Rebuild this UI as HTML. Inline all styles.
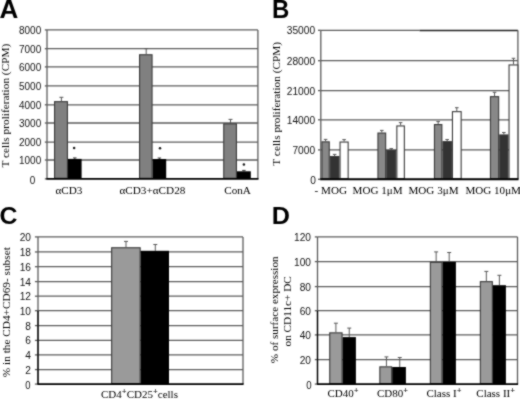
<!DOCTYPE html>
<html><head><meta charset="utf-8"><style>
html,body{margin:0;padding:0;background:#fff;}
svg{display:block;filter:grayscale(100%);}
</style></head><body>
<svg width="520" height="399" viewBox="0 0 520 399">
<defs><filter id="soft" x="0" y="0" width="520" height="399" filterUnits="userSpaceOnUse" color-interpolation-filters="sRGB"><feConvolveMatrix order="3" kernelMatrix="1 2 1 2 12 2 1 2 1" divisor="24" edgeMode="duplicate"/></filter></defs>
<g filter="url(#soft)">
<rect width="520" height="399" fill="#fff"/>
<text x="-0.6" y="17.6" font-family='"Liberation Sans", sans-serif' font-size="26" text-anchor="start" font-weight="bold" fill="#000" transform="translate(0,0)">A</text>
<line x1="47.00" y1="160.00" x2="257.90" y2="160.00" stroke="#5c5c5c" stroke-width="1.3"/>
<line x1="44.80" y1="160.00" x2="47.00" y2="160.00" stroke="#5c5c5c" stroke-width="1.3"/>
<line x1="47.00" y1="142.10" x2="257.90" y2="142.10" stroke="#5c5c5c" stroke-width="1.3"/>
<line x1="44.80" y1="142.10" x2="47.00" y2="142.10" stroke="#5c5c5c" stroke-width="1.3"/>
<line x1="47.00" y1="123.00" x2="257.90" y2="123.00" stroke="#5c5c5c" stroke-width="1.3"/>
<line x1="44.80" y1="123.00" x2="47.00" y2="123.00" stroke="#5c5c5c" stroke-width="1.3"/>
<line x1="47.00" y1="104.80" x2="257.90" y2="104.80" stroke="#5c5c5c" stroke-width="1.3"/>
<line x1="44.80" y1="104.80" x2="47.00" y2="104.80" stroke="#5c5c5c" stroke-width="1.3"/>
<line x1="47.00" y1="85.90" x2="257.90" y2="85.90" stroke="#5c5c5c" stroke-width="1.3"/>
<line x1="44.80" y1="85.90" x2="47.00" y2="85.90" stroke="#5c5c5c" stroke-width="1.3"/>
<line x1="47.00" y1="66.90" x2="257.90" y2="66.90" stroke="#5c5c5c" stroke-width="1.3"/>
<line x1="44.80" y1="66.90" x2="47.00" y2="66.90" stroke="#5c5c5c" stroke-width="1.3"/>
<line x1="47.00" y1="48.70" x2="257.90" y2="48.70" stroke="#5c5c5c" stroke-width="1.3"/>
<line x1="44.80" y1="48.70" x2="47.00" y2="48.70" stroke="#5c5c5c" stroke-width="1.3"/>
<line x1="47.00" y1="29.90" x2="257.90" y2="29.90" stroke="#5c5c5c" stroke-width="1.3"/>
<line x1="44.80" y1="29.90" x2="47.00" y2="29.90" stroke="#5c5c5c" stroke-width="1.3"/>
<text x="0" y="0" font-family='"Liberation Sans", sans-serif' font-size="10.5" text-anchor="end" fill="#111" transform="translate(41.2,164.0) scale(0.95,1)">1000</text>
<text x="0" y="0" font-family='"Liberation Sans", sans-serif' font-size="10.5" text-anchor="end" fill="#111" transform="translate(41.2,146.1) scale(0.95,1)">2000</text>
<text x="0" y="0" font-family='"Liberation Sans", sans-serif' font-size="10.5" text-anchor="end" fill="#111" transform="translate(41.2,127.0) scale(0.95,1)">3000</text>
<text x="0" y="0" font-family='"Liberation Sans", sans-serif' font-size="10.5" text-anchor="end" fill="#111" transform="translate(41.2,108.8) scale(0.95,1)">4000</text>
<text x="0" y="0" font-family='"Liberation Sans", sans-serif' font-size="10.5" text-anchor="end" fill="#111" transform="translate(41.2,89.9) scale(0.95,1)">5000</text>
<text x="0" y="0" font-family='"Liberation Sans", sans-serif' font-size="10.5" text-anchor="end" fill="#111" transform="translate(41.2,70.9) scale(0.95,1)">6000</text>
<text x="0" y="0" font-family='"Liberation Sans", sans-serif' font-size="10.5" text-anchor="end" fill="#111" transform="translate(41.2,52.7) scale(0.95,1)">7000</text>
<text x="0" y="0" font-family='"Liberation Sans", sans-serif' font-size="10.5" text-anchor="end" fill="#111" transform="translate(41.2,33.9) scale(0.95,1)">8000</text>
<text x="0" y="0" font-family='"Liberation Sans", sans-serif' font-size="10.5" text-anchor="middle" fill="#111" transform="translate(32.5,183.5) scale(0.95,1)">0</text>
<line x1="44.80" y1="178.85" x2="47.00" y2="178.85" stroke="#5c5c5c" stroke-width="1.3"/>
<line x1="257.90" y1="29.90" x2="257.90" y2="178.85" stroke="#5c5c5c" stroke-width="1.3"/>
<line x1="47.00" y1="29.90" x2="47.00" y2="178.85" stroke="#5c5c5c" stroke-width="1.3"/>
<line x1="61.40" y1="101.10" x2="61.40" y2="97.30" stroke="#505050" stroke-width="0.95"/>
<line x1="59.40" y1="97.30" x2="63.40" y2="97.30" stroke="#505050" stroke-width="0.95"/>
<line x1="74.80" y1="158.90" x2="74.80" y2="157.90" stroke="#333" stroke-width="0.95"/>
<line x1="73.05" y1="157.90" x2="76.55" y2="157.90" stroke="#333" stroke-width="0.95"/>
<rect x="54.55" y="101.65" width="12.90" height="76.65" fill="#808080" stroke="#3a3a3a" stroke-width="1.1"/>
<rect x="68.00" y="158.90" width="13.60" height="19.95" fill="#000"/>
<circle cx="74.1" cy="148.1" r="1.25" fill="#1a1a1a"/>
<line x1="146.20" y1="54.20" x2="146.20" y2="48.60" stroke="#505050" stroke-width="0.95"/>
<line x1="144.20" y1="48.60" x2="148.20" y2="48.60" stroke="#505050" stroke-width="0.95"/>
<line x1="159.40" y1="159.00" x2="159.40" y2="158.00" stroke="#333" stroke-width="0.95"/>
<line x1="157.65" y1="158.00" x2="161.15" y2="158.00" stroke="#333" stroke-width="0.95"/>
<rect x="139.55" y="54.75" width="12.50" height="123.55" fill="#808080" stroke="#3a3a3a" stroke-width="1.1"/>
<rect x="152.60" y="159.00" width="13.60" height="19.85" fill="#000"/>
<circle cx="160.0" cy="148.2" r="1.25" fill="#1a1a1a"/>
<line x1="230.50" y1="123.30" x2="230.50" y2="119.40" stroke="#505050" stroke-width="0.95"/>
<line x1="228.50" y1="119.40" x2="232.50" y2="119.40" stroke="#505050" stroke-width="0.95"/>
<line x1="243.90" y1="171.30" x2="243.90" y2="170.40" stroke="#333" stroke-width="0.95"/>
<line x1="242.15" y1="170.40" x2="245.65" y2="170.40" stroke="#333" stroke-width="0.95"/>
<rect x="223.75" y="123.85" width="12.70" height="54.45" fill="#808080" stroke="#3a3a3a" stroke-width="1.1"/>
<rect x="237.00" y="171.30" width="13.80" height="7.55" fill="#000"/>
<circle cx="243.9" cy="164.4" r="1.25" fill="#1a1a1a"/>
<line x1="46.40" y1="178.85" x2="258.50" y2="178.85" stroke="#000" stroke-width="1.9"/>
<text x="68.9" y="193.5" font-family='"Liberation Serif", serif' font-size="11.2" text-anchor="middle" font-weight="normal" fill="#000" >&#945;CD3</text>
<text x="152.4" y="193.5" font-family='"Liberation Serif", serif' font-size="11.2" text-anchor="middle" font-weight="normal" fill="#000" >&#945;CD3+&#945;CD28</text>
<text x="237.6" y="193.5" font-family='"Liberation Serif", serif' font-size="11.2" text-anchor="middle" font-weight="normal" fill="#000" >ConA</text>
<text x="0" y="0" font-family='"Liberation Serif", serif' font-size="11.3" text-anchor="middle" fill="#000" transform="translate(9.0,105.6) rotate(-90)" >T cells proliferation (CPM)</text>
<text x="0" y="0" font-family='"Liberation Sans", sans-serif' font-size="25" text-anchor="start" font-weight="bold" fill="#000" transform="translate(271.9,17.6) scale(0.96,1)">B</text>
<line x1="320.80" y1="149.90" x2="517.90" y2="149.90" stroke="#5c5c5c" stroke-width="1.3"/>
<line x1="318.00" y1="149.90" x2="320.80" y2="149.90" stroke="#5c5c5c" stroke-width="1.3"/>
<line x1="320.80" y1="119.80" x2="517.90" y2="119.80" stroke="#5c5c5c" stroke-width="1.3"/>
<line x1="318.00" y1="119.80" x2="320.80" y2="119.80" stroke="#5c5c5c" stroke-width="1.3"/>
<line x1="320.80" y1="90.60" x2="517.90" y2="90.60" stroke="#5c5c5c" stroke-width="1.3"/>
<line x1="318.00" y1="90.60" x2="320.80" y2="90.60" stroke="#5c5c5c" stroke-width="1.3"/>
<line x1="320.80" y1="60.70" x2="517.90" y2="60.70" stroke="#5c5c5c" stroke-width="1.3"/>
<line x1="318.00" y1="60.70" x2="320.80" y2="60.70" stroke="#5c5c5c" stroke-width="1.3"/>
<line x1="320.80" y1="30.30" x2="419.50" y2="30.30" stroke="#5c5c5c" stroke-width="1.3"/>
<line x1="419.50" y1="30.50" x2="517.90" y2="30.50" stroke="#222" stroke-width="1.6"/>
<line x1="318.00" y1="30.30" x2="320.80" y2="30.30" stroke="#5c5c5c" stroke-width="1.3"/>
<line x1="318.00" y1="179.30" x2="320.80" y2="179.30" stroke="#5c5c5c" stroke-width="1.3"/>
<text x="0" y="0" font-family='"Liberation Sans", sans-serif' font-size="10.5" text-anchor="end" fill="#111" transform="translate(315.8,184.20000000000002) scale(0.97,1)">0</text>
<text x="0" y="0" font-family='"Liberation Sans", sans-serif' font-size="10.5" text-anchor="end" fill="#111" transform="translate(315.1,153.9) scale(0.97,1)">7000</text>
<text x="0" y="0" font-family='"Liberation Sans", sans-serif' font-size="10.5" text-anchor="end" fill="#111" transform="translate(315.1,123.8) scale(0.97,1)">14000</text>
<text x="0" y="0" font-family='"Liberation Sans", sans-serif' font-size="10.5" text-anchor="end" fill="#111" transform="translate(315.1,94.6) scale(0.97,1)">21000</text>
<text x="0" y="0" font-family='"Liberation Sans", sans-serif' font-size="10.5" text-anchor="end" fill="#111" transform="translate(315.1,64.7) scale(0.97,1)">28000</text>
<text x="0" y="0" font-family='"Liberation Sans", sans-serif' font-size="10.5" text-anchor="end" fill="#111" transform="translate(315.1,34.3) scale(0.97,1)">35000</text>
<line x1="517.90" y1="30.30" x2="517.90" y2="179.30" stroke="#5c5c5c" stroke-width="1.3"/>
<line x1="320.80" y1="30.30" x2="320.80" y2="179.30" stroke="#5c5c5c" stroke-width="1.3"/>
<line x1="325.60" y1="141.30" x2="325.60" y2="139.40" stroke="#505050" stroke-width="0.95"/>
<line x1="323.80" y1="139.40" x2="327.40" y2="139.40" stroke="#505050" stroke-width="0.95"/>
<rect x="321.95" y="141.85" width="7.30" height="36.90" fill="#888888" stroke="#3a3a3a" stroke-width="1.1"/>
<line x1="334.65" y1="156.00" x2="334.65" y2="154.40" stroke="#505050" stroke-width="0.95"/>
<line x1="332.85" y1="154.40" x2="336.45" y2="154.40" stroke="#505050" stroke-width="0.95"/>
<rect x="330.35" y="156.55" width="8.60" height="22.20" fill="#333333" stroke="#3a3a3a" stroke-width="1.1"/>
<line x1="344.10" y1="141.50" x2="344.10" y2="139.60" stroke="#505050" stroke-width="0.95"/>
<line x1="342.30" y1="139.60" x2="345.90" y2="139.60" stroke="#505050" stroke-width="0.95"/>
<rect x="340.05" y="142.05" width="8.10" height="36.70" fill="#ffffff" stroke="#3a3a3a" stroke-width="1.1"/>
<line x1="381.80" y1="132.50" x2="381.80" y2="130.40" stroke="#505050" stroke-width="0.95"/>
<line x1="380.00" y1="130.40" x2="383.60" y2="130.40" stroke="#505050" stroke-width="0.95"/>
<rect x="377.95" y="133.05" width="7.70" height="45.70" fill="#888888" stroke="#3a3a3a" stroke-width="1.1"/>
<line x1="391.25" y1="149.90" x2="391.25" y2="148.60" stroke="#505050" stroke-width="0.95"/>
<line x1="389.45" y1="148.60" x2="393.05" y2="148.60" stroke="#505050" stroke-width="0.95"/>
<rect x="386.75" y="150.45" width="9.00" height="28.30" fill="#333333" stroke="#3a3a3a" stroke-width="1.1"/>
<line x1="400.60" y1="125.40" x2="400.60" y2="122.60" stroke="#505050" stroke-width="0.95"/>
<line x1="398.80" y1="122.60" x2="402.40" y2="122.60" stroke="#505050" stroke-width="0.95"/>
<rect x="396.85" y="125.95" width="7.50" height="52.80" fill="#ffffff" stroke="#3a3a3a" stroke-width="1.1"/>
<line x1="438.15" y1="124.00" x2="438.15" y2="121.60" stroke="#505050" stroke-width="0.95"/>
<line x1="436.35" y1="121.60" x2="439.95" y2="121.60" stroke="#505050" stroke-width="0.95"/>
<rect x="434.45" y="124.55" width="7.40" height="54.20" fill="#888888" stroke="#3a3a3a" stroke-width="1.1"/>
<line x1="447.15" y1="141.10" x2="447.15" y2="139.50" stroke="#505050" stroke-width="0.95"/>
<line x1="445.35" y1="139.50" x2="448.95" y2="139.50" stroke="#505050" stroke-width="0.95"/>
<rect x="442.95" y="141.65" width="8.40" height="37.10" fill="#333333" stroke="#3a3a3a" stroke-width="1.1"/>
<line x1="456.80" y1="111.10" x2="456.80" y2="107.70" stroke="#505050" stroke-width="0.95"/>
<line x1="455.00" y1="107.70" x2="458.60" y2="107.70" stroke="#505050" stroke-width="0.95"/>
<rect x="452.45" y="111.65" width="8.70" height="67.10" fill="#ffffff" stroke="#3a3a3a" stroke-width="1.1"/>
<line x1="494.55" y1="96.10" x2="494.55" y2="92.30" stroke="#505050" stroke-width="0.95"/>
<line x1="492.75" y1="92.30" x2="496.35" y2="92.30" stroke="#505050" stroke-width="0.95"/>
<rect x="490.45" y="96.65" width="8.20" height="82.10" fill="#888888" stroke="#3a3a3a" stroke-width="1.1"/>
<line x1="503.85" y1="134.40" x2="503.85" y2="132.50" stroke="#505050" stroke-width="0.95"/>
<line x1="502.05" y1="132.50" x2="505.65" y2="132.50" stroke="#505050" stroke-width="0.95"/>
<rect x="499.75" y="134.95" width="8.20" height="43.80" fill="#333333" stroke="#3a3a3a" stroke-width="1.1"/>
<line x1="513.48" y1="64.40" x2="513.48" y2="58.30" stroke="#505050" stroke-width="0.95"/>
<line x1="511.68" y1="58.30" x2="515.27" y2="58.30" stroke="#505050" stroke-width="0.95"/>
<rect x="509.05" y="64.95" width="8.85" height="113.80" fill="#ffffff" stroke="#3a3a3a" stroke-width="1.1"/>
<line x1="320.20" y1="179.30" x2="518.50" y2="179.30" stroke="#000" stroke-width="1.9"/>
<text x="330.8" y="193.8" font-family='"Liberation Serif", serif' font-size="11.1" text-anchor="middle" font-weight="normal" fill="#000" >- MOG</text>
<text x="377.6" y="193.8" font-family='"Liberation Serif", serif' font-size="11.1" text-anchor="middle" font-weight="normal" fill="#000" >MOG 1&#956;M</text>
<text x="433.5" y="193.8" font-family='"Liberation Serif", serif' font-size="11.1" text-anchor="middle" font-weight="normal" fill="#000" >MOG 3&#956;M</text>
<text x="493.2" y="193.8" font-family='"Liberation Serif", serif' font-size="11.1" text-anchor="middle" font-weight="normal" fill="#000" >MOG 10&#956;M</text>
<text x="0" y="0" font-family='"Liberation Serif", serif' font-size="11.3" text-anchor="middle" fill="#000" transform="translate(280.4,103.8) rotate(-90)" >T cells proliferation (CPM)</text>
<text x="-0.4" y="224.4" font-family='"Liberation Sans", sans-serif' font-size="24.8" text-anchor="start" font-weight="bold" fill="#000" >C</text>
<line x1="38.00" y1="369.60" x2="243.00" y2="369.60" stroke="#5c5c5c" stroke-width="1.3"/>
<line x1="34.90" y1="369.60" x2="38.00" y2="369.60" stroke="#5c5c5c" stroke-width="1.3"/>
<line x1="38.00" y1="354.90" x2="243.00" y2="354.90" stroke="#5c5c5c" stroke-width="1.3"/>
<line x1="34.90" y1="354.90" x2="38.00" y2="354.90" stroke="#5c5c5c" stroke-width="1.3"/>
<line x1="38.00" y1="340.40" x2="243.00" y2="340.40" stroke="#5c5c5c" stroke-width="1.3"/>
<line x1="34.90" y1="340.40" x2="38.00" y2="340.40" stroke="#5c5c5c" stroke-width="1.3"/>
<line x1="38.00" y1="325.60" x2="243.00" y2="325.60" stroke="#5c5c5c" stroke-width="1.3"/>
<line x1="34.90" y1="325.60" x2="38.00" y2="325.60" stroke="#5c5c5c" stroke-width="1.3"/>
<line x1="38.00" y1="310.70" x2="243.00" y2="310.70" stroke="#5c5c5c" stroke-width="1.3"/>
<line x1="34.90" y1="310.70" x2="38.00" y2="310.70" stroke="#5c5c5c" stroke-width="1.3"/>
<line x1="38.00" y1="296.20" x2="243.00" y2="296.20" stroke="#5c5c5c" stroke-width="1.3"/>
<line x1="34.90" y1="296.20" x2="38.00" y2="296.20" stroke="#5c5c5c" stroke-width="1.3"/>
<line x1="38.00" y1="281.60" x2="243.00" y2="281.60" stroke="#5c5c5c" stroke-width="1.3"/>
<line x1="34.90" y1="281.60" x2="38.00" y2="281.60" stroke="#5c5c5c" stroke-width="1.3"/>
<line x1="38.00" y1="266.70" x2="243.00" y2="266.70" stroke="#5c5c5c" stroke-width="1.3"/>
<line x1="34.90" y1="266.70" x2="38.00" y2="266.70" stroke="#5c5c5c" stroke-width="1.3"/>
<line x1="38.00" y1="251.95" x2="243.00" y2="251.95" stroke="#5c5c5c" stroke-width="1.3"/>
<line x1="34.90" y1="251.95" x2="38.00" y2="251.95" stroke="#5c5c5c" stroke-width="1.3"/>
<line x1="38.00" y1="236.90" x2="243.00" y2="236.90" stroke="#5c5c5c" stroke-width="1.3"/>
<line x1="34.90" y1="236.90" x2="38.00" y2="236.90" stroke="#5c5c5c" stroke-width="1.3"/>
<line x1="34.90" y1="384.10" x2="38.00" y2="384.10" stroke="#5c5c5c" stroke-width="1.3"/>
<text x="0" y="0" font-family='"Liberation Sans", sans-serif' font-size="10.5" text-anchor="end" fill="#111" transform="translate(30.5,389.15) scale(0.9,1)">0</text>
<text x="0" y="0" font-family='"Liberation Sans", sans-serif' font-size="10.5" text-anchor="end" fill="#111" transform="translate(31.0,373.6) scale(0.97,1)">2</text>
<text x="0" y="0" font-family='"Liberation Sans", sans-serif' font-size="10.5" text-anchor="end" fill="#111" transform="translate(31.0,358.9) scale(0.97,1)">4</text>
<text x="0" y="0" font-family='"Liberation Sans", sans-serif' font-size="10.5" text-anchor="end" fill="#111" transform="translate(31.0,344.4) scale(0.97,1)">6</text>
<text x="0" y="0" font-family='"Liberation Sans", sans-serif' font-size="10.5" text-anchor="end" fill="#111" transform="translate(31.0,329.6) scale(0.97,1)">8</text>
<text x="0" y="0" font-family='"Liberation Sans", sans-serif' font-size="10.5" text-anchor="end" fill="#111" transform="translate(31.0,314.7) scale(0.97,1)">10</text>
<text x="0" y="0" font-family='"Liberation Sans", sans-serif' font-size="10.5" text-anchor="end" fill="#111" transform="translate(31.0,300.2) scale(0.97,1)">12</text>
<text x="0" y="0" font-family='"Liberation Sans", sans-serif' font-size="10.5" text-anchor="end" fill="#111" transform="translate(31.0,285.6) scale(0.97,1)">14</text>
<text x="0" y="0" font-family='"Liberation Sans", sans-serif' font-size="10.5" text-anchor="end" fill="#111" transform="translate(31.0,270.7) scale(0.97,1)">16</text>
<text x="0" y="0" font-family='"Liberation Sans", sans-serif' font-size="10.5" text-anchor="end" fill="#111" transform="translate(31.0,255.95) scale(0.97,1)">18</text>
<text x="0" y="0" font-family='"Liberation Sans", sans-serif' font-size="10.5" text-anchor="end" fill="#111" transform="translate(31.0,240.9) scale(0.97,1)">20</text>
<line x1="243.00" y1="236.90" x2="243.00" y2="384.10" stroke="#5c5c5c" stroke-width="1.3"/>
<line x1="38.00" y1="236.90" x2="38.00" y2="384.10" stroke="#5c5c5c" stroke-width="1.3"/>
<line x1="38.00" y1="310.70" x2="38.00" y2="384.10" stroke="#000" stroke-width="1.3"/>
<line x1="126.00" y1="247.20" x2="126.00" y2="241.40" stroke="#505050" stroke-width="0.95"/>
<line x1="124.00" y1="241.40" x2="128.00" y2="241.40" stroke="#505050" stroke-width="0.95"/>
<line x1="155.30" y1="250.80" x2="155.30" y2="244.50" stroke="#505050" stroke-width="0.95"/>
<line x1="153.30" y1="244.50" x2="157.30" y2="244.50" stroke="#505050" stroke-width="0.95"/>
<rect x="111.65" y="247.75" width="28.50" height="135.80" fill="#9a9a9a" stroke="#3a3a3a" stroke-width="1.1"/>
<rect x="140.70" y="250.80" width="28.30" height="133.30" fill="#000"/>
<line x1="37.40" y1="384.10" x2="243.60" y2="384.10" stroke="#000" stroke-width="1.9"/>
<text x="139.5" y="397.7" font-family='"Liberation Serif", serif' font-size="11" text-anchor="middle" font-weight="normal" fill="#000" >CD4<tspan font-size="8.5" font-weight="bold" dy="-4">+</tspan><tspan dy="4">CD25</tspan><tspan font-size="8.5" font-weight="bold" dy="-4">+</tspan><tspan dy="4">cells</tspan></text>
<text x="0" y="0" font-family='"Liberation Serif", serif' font-size="11.3" text-anchor="middle" fill="#000" transform="translate(9.6,312.2) rotate(-90)" >% in the CD4+CD69- subset</text>
<text x="0" y="0" font-family='"Liberation Sans", sans-serif' font-size="24" text-anchor="start" font-weight="bold" fill="#000" transform="translate(271.7,223.9) scale(1.05,1)">D</text>
<line x1="317.50" y1="359.60" x2="517.50" y2="359.60" stroke="#5c5c5c" stroke-width="1.3"/>
<line x1="314.80" y1="359.60" x2="317.50" y2="359.60" stroke="#5c5c5c" stroke-width="1.3"/>
<line x1="317.50" y1="334.90" x2="517.50" y2="334.90" stroke="#5c5c5c" stroke-width="1.3"/>
<line x1="314.80" y1="334.90" x2="317.50" y2="334.90" stroke="#5c5c5c" stroke-width="1.3"/>
<line x1="317.50" y1="310.70" x2="517.50" y2="310.70" stroke="#5c5c5c" stroke-width="1.3"/>
<line x1="314.80" y1="310.70" x2="317.50" y2="310.70" stroke="#5c5c5c" stroke-width="1.3"/>
<line x1="317.50" y1="286.60" x2="517.50" y2="286.60" stroke="#5c5c5c" stroke-width="1.3"/>
<line x1="314.80" y1="286.60" x2="317.50" y2="286.60" stroke="#5c5c5c" stroke-width="1.3"/>
<line x1="317.50" y1="261.60" x2="517.50" y2="261.60" stroke="#5c5c5c" stroke-width="1.3"/>
<line x1="314.80" y1="261.60" x2="317.50" y2="261.60" stroke="#5c5c5c" stroke-width="1.3"/>
<line x1="317.50" y1="236.90" x2="517.50" y2="236.90" stroke="#5c5c5c" stroke-width="1.3"/>
<line x1="314.80" y1="236.90" x2="317.50" y2="236.90" stroke="#5c5c5c" stroke-width="1.3"/>
<line x1="314.80" y1="384.10" x2="317.50" y2="384.10" stroke="#5c5c5c" stroke-width="1.3"/>
<text x="0" y="0" font-family='"Liberation Sans", sans-serif' font-size="10.5" text-anchor="end" fill="#111" transform="translate(311.5,388.8) scale(0.92,1)">0</text>
<text x="0" y="0" font-family='"Liberation Sans", sans-serif' font-size="10.5" text-anchor="end" fill="#111" transform="translate(311.0,363.6) scale(0.97,1)">20</text>
<text x="0" y="0" font-family='"Liberation Sans", sans-serif' font-size="10.5" text-anchor="end" fill="#111" transform="translate(311.0,338.9) scale(0.97,1)">40</text>
<text x="0" y="0" font-family='"Liberation Sans", sans-serif' font-size="10.5" text-anchor="end" fill="#111" transform="translate(311.0,314.7) scale(0.97,1)">60</text>
<text x="0" y="0" font-family='"Liberation Sans", sans-serif' font-size="10.5" text-anchor="end" fill="#111" transform="translate(311.0,290.6) scale(0.97,1)">80</text>
<text x="0" y="0" font-family='"Liberation Sans", sans-serif' font-size="10.5" text-anchor="end" fill="#111" transform="translate(311.0,265.6) scale(0.97,1)">100</text>
<text x="0" y="0" font-family='"Liberation Sans", sans-serif' font-size="10.5" text-anchor="end" fill="#111" transform="translate(311.0,240.9) scale(0.97,1)">120</text>
<line x1="517.50" y1="236.90" x2="517.50" y2="384.10" stroke="#5c5c5c" stroke-width="1.3"/>
<line x1="317.50" y1="236.90" x2="317.50" y2="384.10" stroke="#5c5c5c" stroke-width="1.3"/>
<line x1="317.50" y1="310.70" x2="317.50" y2="384.10" stroke="#000" stroke-width="1.3"/>
<line x1="335.90" y1="332.30" x2="335.90" y2="323.20" stroke="#505050" stroke-width="0.95"/>
<line x1="333.90" y1="323.20" x2="337.90" y2="323.20" stroke="#505050" stroke-width="0.95"/>
<line x1="349.25" y1="337.10" x2="349.25" y2="328.10" stroke="#505050" stroke-width="0.95"/>
<line x1="347.25" y1="328.10" x2="351.25" y2="328.10" stroke="#505050" stroke-width="0.95"/>
<rect x="329.75" y="332.85" width="12.30" height="50.70" fill="#9a9a9a" stroke="#3a3a3a" stroke-width="1.1"/>
<rect x="342.60" y="337.10" width="13.30" height="47.00" fill="#000"/>
<line x1="386.45" y1="366.30" x2="386.45" y2="356.90" stroke="#505050" stroke-width="0.95"/>
<line x1="384.45" y1="356.90" x2="388.45" y2="356.90" stroke="#505050" stroke-width="0.95"/>
<line x1="399.75" y1="367.00" x2="399.75" y2="357.50" stroke="#505050" stroke-width="0.95"/>
<line x1="397.75" y1="357.50" x2="401.75" y2="357.50" stroke="#505050" stroke-width="0.95"/>
<rect x="379.85" y="366.85" width="11.80" height="16.70" fill="#9a9a9a" stroke="#3a3a3a" stroke-width="1.1"/>
<rect x="392.20" y="367.00" width="13.70" height="17.10" fill="#000"/>
<line x1="436.15" y1="261.80" x2="436.15" y2="251.90" stroke="#505050" stroke-width="0.95"/>
<line x1="434.15" y1="251.90" x2="438.15" y2="251.90" stroke="#505050" stroke-width="0.95"/>
<line x1="449.20" y1="261.90" x2="449.20" y2="252.50" stroke="#505050" stroke-width="0.95"/>
<line x1="447.20" y1="252.50" x2="451.20" y2="252.50" stroke="#505050" stroke-width="0.95"/>
<rect x="430.35" y="262.35" width="11.60" height="121.20" fill="#9a9a9a" stroke="#3a3a3a" stroke-width="1.1"/>
<rect x="442.50" y="261.90" width="13.40" height="122.20" fill="#000"/>
<line x1="486.35" y1="281.10" x2="486.35" y2="271.40" stroke="#505050" stroke-width="0.95"/>
<line x1="484.35" y1="271.40" x2="488.35" y2="271.40" stroke="#505050" stroke-width="0.95"/>
<line x1="499.40" y1="285.20" x2="499.40" y2="275.30" stroke="#505050" stroke-width="0.95"/>
<line x1="497.40" y1="275.30" x2="501.40" y2="275.30" stroke="#505050" stroke-width="0.95"/>
<rect x="480.35" y="281.65" width="12.00" height="101.90" fill="#9a9a9a" stroke="#3a3a3a" stroke-width="1.1"/>
<rect x="492.90" y="285.20" width="13.00" height="98.90" fill="#000"/>
<line x1="316.90" y1="384.10" x2="518.10" y2="384.10" stroke="#000" stroke-width="1.9"/>
<text x="343.0" y="396.6" font-family='"Liberation Serif", serif' font-size="11" text-anchor="middle" font-weight="normal" fill="#000" >CD40<tspan font-size="8.5" font-weight="bold" dy="-4">+</tspan></text>
<text x="392.6" y="396.6" font-family='"Liberation Serif", serif' font-size="11" text-anchor="middle" font-weight="normal" fill="#000" >CD80<tspan font-size="8.5" font-weight="bold" dy="-4">+</tspan></text>
<text x="444" y="396.6" font-family='"Liberation Serif", serif' font-size="11" text-anchor="middle" font-weight="normal" fill="#000" >Class I<tspan font-size="8.5" font-weight="bold" dy="-4">+</tspan></text>
<text x="495.7" y="396.6" font-family='"Liberation Serif", serif' font-size="11" text-anchor="middle" font-weight="normal" fill="#000" >Class II<tspan font-size="8.5" font-weight="bold" dy="-4">+</tspan></text>
<text x="0" y="0" font-family='"Liberation Serif", serif' font-size="11.15" text-anchor="middle" fill="#000" transform="translate(277.6,309.8) rotate(-90)" >% of surface expression</text>
<text x="0" y="0" font-family='"Liberation Serif", serif' font-size="11.25" text-anchor="middle" fill="#000" transform="translate(291.3,311.3) rotate(-90)" >on CD11c+ DC</text>
</g>
</svg>
</body></html>
